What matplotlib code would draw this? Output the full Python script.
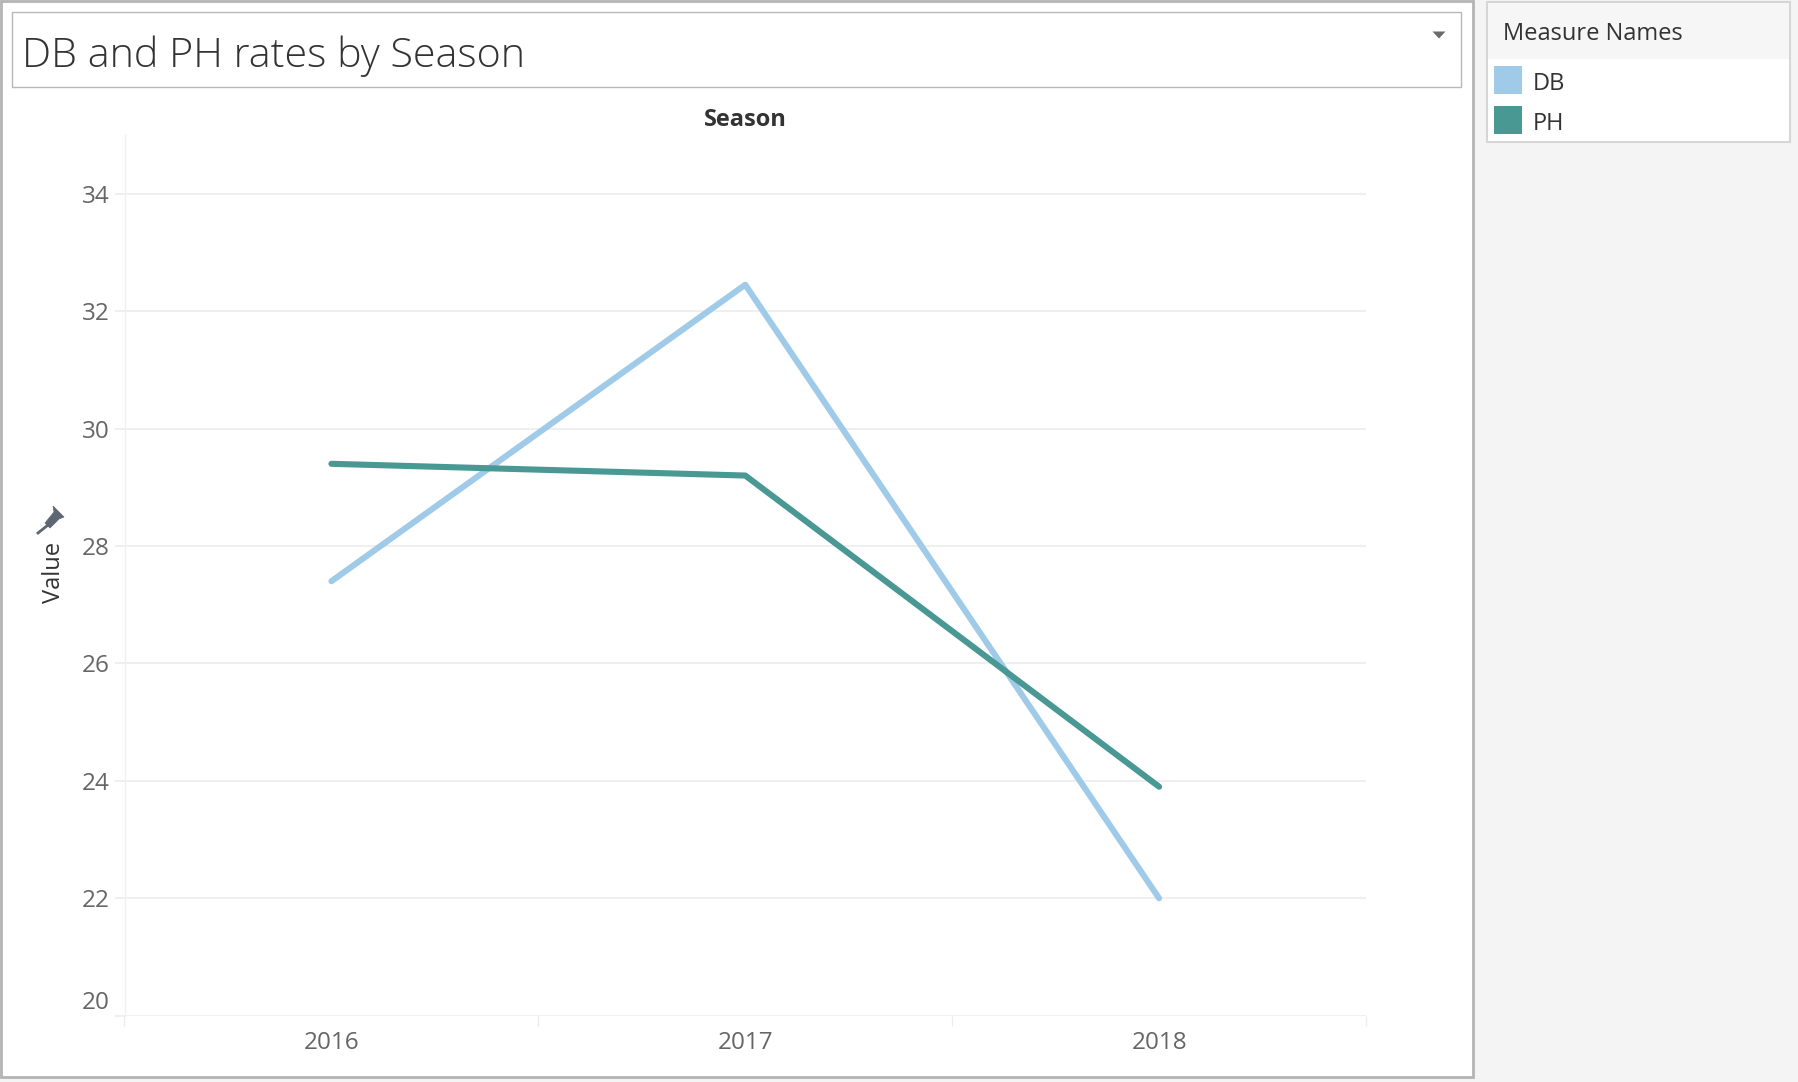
import matplotlib
matplotlib.use("Agg")
import matplotlib.pyplot as plt
from matplotlib.patches import Rectangle, Polygon
from matplotlib.transforms import ScaledTranslation
from matplotlib.lines import Line2D

# ---- data ----
seasons = ["2016", "2017", "2018"]
db_values = [27.4, 32.45, 22.0]
ph_values = [29.4, 29.2, 23.9]
series_names = ["DB", "PH"]
series_colors = ["#a0cbe8", "#499894"]
y_ticks = [20, 22, 24, 26, 28, 30, 32, 34]
title_text = "DB and PH rates by Season"
legend_title = "Measure Names"

W, H = 1798, 1082
DPI = 100
FONT = ["Open Sans", "DejaVu Sans"]

fig = plt.figure(figsize=(W / DPI, H / DPI), dpi=DPI)
fig.patch.set_facecolor("#f4f4f4")


def fx(x):
    return x / W


def fy(y):
    return 1 - y / H


# worksheet panel
fig.patches.append(Rectangle((fx(1), fy(1077)), fx(1473) - fx(1), fy(1) - fy(1077),
                             transform=fig.transFigure, facecolor="white",
                             edgecolor="#b4b4b4", linewidth=2.0, zorder=-5))
# title box
fig.patches.append(Rectangle((fx(12), fy(86.7)), fx(1461) - fx(12), fy(12.3) - fy(86.7),
                             transform=fig.transFigure, facecolor="white",
                             edgecolor="#b8b8b8", linewidth=1.0, zorder=-4))
fig.text(fx(22), fy(66.7), title_text, fontsize=29.7, family=FONT, fontweight="light",
         color="#333333", va="baseline", ha="left")
# dropdown arrow
fig.patches.append(Polygon([(fx(1432.5), fy(31.5)), (fx(1445.5), fy(31.5)), (fx(1439), fy(38.5))],
                           closed=True, transform=fig.transFigure, facecolor="#6b6b6b",
                           edgecolor="none", zorder=2))

# ---- axes ----
L, R, T, B = 124.5, 1366, 135, 1015.7
ax = fig.add_axes([fx(L), fy(B), fx(R) - fx(L), fy(T) - fy(B)])
ax.set_zorder(5)
ax.set_facecolor("white")

x = list(range(len(seasons)))
for vals, name, col in zip([db_values, ph_values], series_names, series_colors):
    ax.plot(x, vals, color=col, lw=4.4, solid_capstyle="round", solid_joinstyle="round",
            label=name, zorder=3)

ax.set_xlim(-0.5, len(seasons) - 0.5)
ax.set_ylim(20, 35)
ax.set_yticks(y_ticks)
ax.set_yticklabels([str(t) for t in y_ticks])
ax.set_xticks(x)
ax.set_xticklabels(seasons)
ax.set_xticks([i - 0.5 for i in range(len(seasons) + 1)], minor=True)

for s in ["top", "right", "bottom"]:
    ax.spines[s].set_visible(False)
ax.spines["left"].set_color("#f0f0f0")
ax.spines["left"].set_linewidth(1.0)

ax.grid(axis="y", color="#efefef", lw=1.4, zorder=1)
ax.tick_params(axis="y", length=7.5, width=1.4, color="#efefef", pad=3.4,
               labelsize=17.5, labelcolor="#666666")
ax.tick_params(axis="x", which="major", length=0, pad=11.3, labelsize=17.5, labelcolor="#666666")
ax.tick_params(axis="x", which="minor", length=7, width=1.0, color="#ececec")
for lab in ax.get_yticklabels() + ax.get_xticklabels():
    lab.set_family(FONT)

fig.canvas.draw()
ylabs = ax.get_yticklabels()
ylabs[0].set_transform(ylabs[0].get_transform() + ScaledTranslation(0, 16 / DPI, fig.dpi_scale_trans))

# header "Season"
fig.text(fx(745), fy(126), "Season", fontsize=17, fontweight="bold", family=FONT,
         color="#333333", ha="center", va="baseline")
# y axis title + pin
fig.text(fx(54), fy(572), "Value", fontsize=17, family=FONT, color="#333333",
         rotation=90, ha="center", va="center")
fig.patches.append(Polygon([(fx(a), fy(b)) for a, b in [(53, 506), (64, 517), (59, 519),
                                                       (50, 528), (45, 523), (54, 512)]],
                           closed=True, transform=fig.transFigure, facecolor="#5d6771",
                           edgecolor="#5d6771", lw=0.5, zorder=3))
fig.lines.append(Line2D([fx(48), fx(38)], [fy(525), fy(533)], transform=fig.transFigure,
                        color="#5d6771", lw=2.0))

# ---- legend panel ----
fig.patches.append(Rectangle((fx(1486.5), fy(142)), fx(1790) - fx(1486.5), fy(2) - fy(142),
                             transform=fig.transFigure, facecolor="white",
                             edgecolor="#d6d6d6", linewidth=1.5, zorder=1))
fig.patches.append(Rectangle((fx(1488), fy(59)), fx(1789) - fx(1488), fy(3.5) - fy(59),
                             transform=fig.transFigure, facecolor="#f6f6f6",
                             edgecolor="none", zorder=2))
fig.text(fx(1503), fy(40), legend_title, fontsize=17, family=FONT, color="#333333",
         ha="left", va="baseline")
for i, (name, col) in enumerate(zip(series_names, series_colors)):
    yc = 80 + i * 40
    fig.patches.append(Rectangle((fx(1494), fy(yc + 14)), fx(1522) - fx(1494), fy(yc - 14) - fy(yc + 14),
                                 transform=fig.transFigure, facecolor=col, edgecolor="none", zorder=3))
    fig.text(fx(1533), fy(yc + 10), name, fontsize=17, family=FONT, color="#333333",
             ha="left", va="baseline")

fig.savefig("out.png", dpi=DPI, facecolor=fig.get_facecolor())
